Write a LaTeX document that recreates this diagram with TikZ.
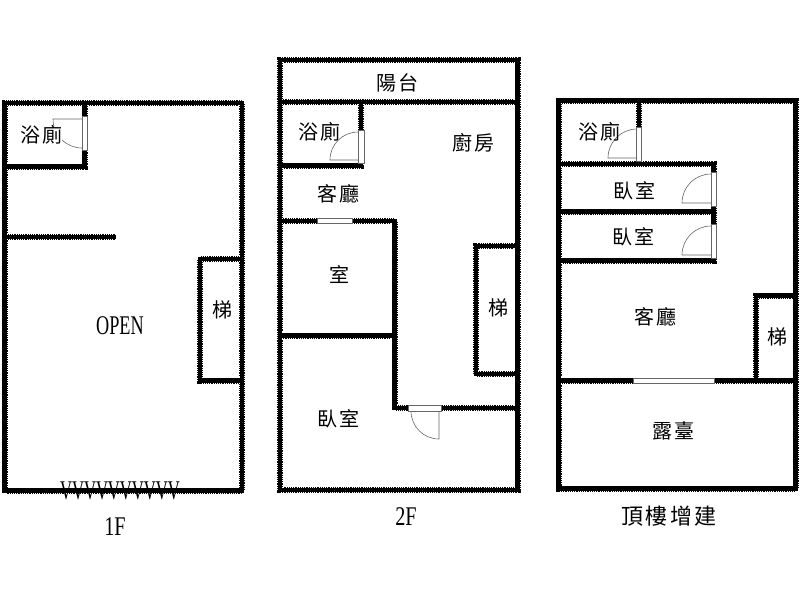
\documentclass[tikz,border=0pt]{standalone}
\usepackage{fontspec}
\newfontfamily\cjk[LetterSpace=10]{Noto Sans CJK TC}
\newfontfamily\latinfont{Liberation Serif}
\usetikzlibrary{positioning}
\tikzset{
	wall/.style={draw=black, line width=6pt, line join=miter, line cap=square,
		postaction={draw=white, line width=6.1pt, line cap=butt, dash pattern=on 0.6pt off 1.6pt},
		postaction={draw=black, line width=4.8pt, line cap=square}},
	winbox/.style={draw=black!60, line width=0.6pt, fill=white},
	doorline/.style={draw=black!60, line width=0.6pt},
	room/.style={font=\cjk\fontsize{20}{20}\selectfont, inner sep=0pt},
	floorname/.style={font=\latinfont\fontsize{27}{27}\selectfont, inner sep=0pt, xscale=0.75},
}
\begin{document}
\begin{tikzpicture}[x=1pt, y=-1pt]
	\useasboundingbox (0,0) rectangle (800,600);
	% 1F
	\draw[wall] (4.5,103) rectangle (242,490.5)
		(84.5,103) -- (84.5,166.5) -- (4.5,166.5)
		(4.5,237) -- (116,237)
		(242,259) -- (200,259) -- (200,380.5) -- (242,380.5);
	\draw[winbox] (82,116) rectangle (87,150);
	\draw[doorline] (82,119) -- (53,119) arc (180:90:29);
	\node[room, fill=white] (bathA) at (41,135) {浴廁};
	\node[room] (stairA) at (222,310) {梯};
	\node[floorname, xscale=0.9] (openA) at (120,326) {OPEN};
	\node[floorname, xscale=0.82] (frontA) at (120,491) {VVVVVVVVVV};
	\node[floorname] (nameA) at (115,527) {1F};
	% 2F
	\draw[wall] (280,60) rectangle (517.5,490)
		(280,102) -- (517.5,102)
		(361,102) -- (361,165.5) -- (280,165.5)
		(280,221) -- (394.5,221) -- (394.5,408) -- (517.5,408)
		(280,335.5) -- (394.5,335.5)
		(517.5,246) -- (476,246) -- (476,374) -- (517.5,374);
	\draw[winbox] (358,130) rectangle (364,163);
	\draw[winbox] (317,218.5) rectangle (352,223.5);
	\draw[winbox] (408,405) rectangle (441,411);
	\draw[doorline] (358,160) -- (330,160) arc (180:270:28);
	\draw[doorline] (439,411) -- (439,439) arc (90:180:28);
	\node[room] (balcB) at (397,83) {陽台};
	\node[room] (bathB) at (319,132) {浴廁};
	\node[room] (kitchB) at (473,143) {廚房};
	\node[room] (livingB) at (338,194) {客廳};
	\node[room] (roomB) at (339,275) {室};
	\node[room] (stairB) at (498,308) {梯};
	\node[room] (bedB) at (338,419) {臥室};
	\node[floorname] (nameB) at (406,517) {2F};
	% top floor
	\draw[wall] (558.5,100.5) rectangle (795.5,488.5)
		(639,100.5) -- (639,164)
		(558.5,164) -- (713.5,164) -- (713.5,260.5) -- (558.5,260.5)
		(558.5,211.5) -- (713.5,211.5)
		(558.5,380.5) -- (795.5,380.5)
		(795.5,295.5) -- (756,295.5) -- (756,380.5);
	\draw[winbox] (636.5,127) rectangle (641.5,161);
	\draw[winbox] (711,172) rectangle (716,206);
	\draw[winbox] (711,224) rectangle (716,258);
	\draw[winbox] (633,378) rectangle (714,383);
	\draw[doorline] (637,158) -- (608,158) arc (180:270:29);
	\draw[doorline] (711,203) -- (682,203) arc (180:270:29);
	\draw[doorline] (711,255) -- (682,255) arc (180:270:29);
	\node[room] (bathC) at (599,132) {浴廁};
	\node[room] (bedC) at (634,191) {臥室};
	\node[room] (bedD) at (633,237) {臥室};
	\node[room] (livingC) at (655,317) {客廳};
	\node[room] (stairC) at (777,337) {梯};
	\node[room] (terrC) at (673,431) {露臺};
	\node[room, font=\cjk\fontsize{22}{22}\selectfont] (nameC) at (669,516) {頂樓增建};
\end{tikzpicture}
\end{document}
